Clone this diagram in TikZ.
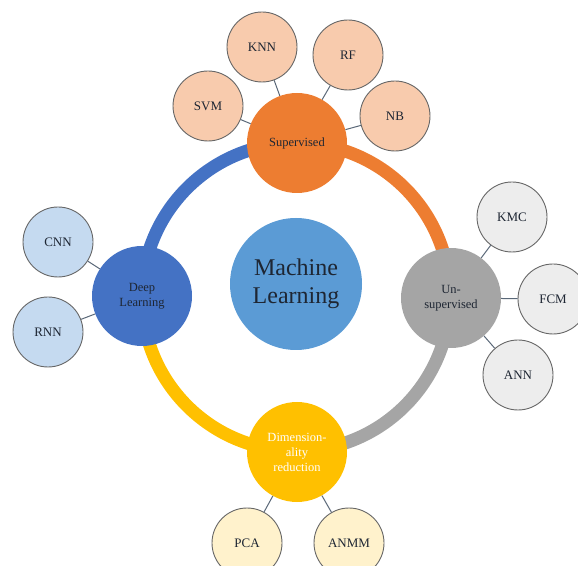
\documentclass[tikz,border=0pt]{standalone}
\usepackage{fontspec}
\setmainfont{Liberation Serif}
\definecolor{suporange}{HTML}{ED7D31}
\definecolor{suplight}{HTML}{F8CBAD}
\definecolor{unsgray}{HTML}{A5A5A5}
\definecolor{unslight}{HTML}{EDEDED}
\definecolor{deepblue}{HTML}{4472C4}
\definecolor{deeplight}{HTML}{C5DAF0}
\definecolor{dimgold}{HTML}{FFC000}
\definecolor{dimlight}{HTML}{FFF2CC}
\definecolor{mlblue}{HTML}{5B9BD5}
\definecolor{spokecol}{HTML}{5A6878}
\definecolor{labelcol}{HTML}{1E2633}
\tikzset{
	topic/.style={circle, minimum size=100pt, inner sep=0pt, align=center,
		font=\fontsize{12.5}{15}\selectfont, text=labelcol},
	leaf/.style={circle, draw=black!60, line width=0.9pt, minimum size=70pt,
		inner sep=0pt, font=\fontsize{13}{15}\selectfont, text=labelcol},
	spoke/.style={draw=spokecol, line width=1pt},
	ringpart/.style={line width=13pt}
}

\begin{document}
\begin{tikzpicture}[x=1pt,y=1pt]
	%%%%% START %%%%%
	\def\cx{296}
	\def\cy{268}
	\def\ringr{154}
	\useasboundingbox (0,0) rectangle (578,565);

	% coloured ring, one quarter per branch
	\draw[ringpart, suporange] (\cx,\cy+\ringr) arc (90:0:\ringr);
	\draw[ringpart, unsgray] (\cx+\ringr,\cy) arc (0:-90:\ringr);
	\draw[ringpart, dimgold] (\cx,\cy-\ringr) arc (-90:-180:\ringr);
	\draw[ringpart, deepblue] (\cx-\ringr,\cy) arc (180:90:\ringr);

	% centre
	\node[circle, fill=mlblue, minimum size=132pt, align=center, text=labelcol,
		font=\fontsize{24}{28}\selectfont] (ml) at (296,281) {Machine\\Learning};

	% branches on the ring
	\node[topic, fill=suporange] (sup) at (297,422) {Supervised};
	\node[topic, fill=unsgray] (unsup) at (451,267) {Un-\\supervised};
	\node[topic, fill=dimgold, text=white] (dimred) at (297,113) {Dimension-\\ality\\reduction};
	\node[topic, fill=deepblue] (deep) at (142,269) {Deep\\Learning};

	% supervised methods
	\node[leaf, fill=suplight] (svm) at (208,459) {SVM};
	\node[leaf, fill=suplight] (knn) at (262,518) {KNN};
	\node[leaf, fill=suplight] (rf) at (348,510) {RF};
	\node[leaf, fill=suplight] (nb) at (395,449) {NB};

	% unsupervised methods
	\node[leaf, fill=unslight] (kmc) at (512,348) {KMC};
	\node[leaf, fill=unslight] (fcm) at (553,266) {FCM};
	\node[leaf, fill=unslight] (ann) at (518,190) {ANN};

	% dimensionality reduction
	\node[leaf, fill=dimlight] (pca) at (247,22) {PCA};
	\node[leaf, fill=dimlight] (anmm) at (349,22) {ANMM};

	% deep learning
	\node[leaf, fill=deeplight] (cnn) at (58,323) {CNN};
	\node[leaf, fill=deeplight] (rnn) at (48,233) {RNN};

	\foreach \leafname in {svm,knn,rf,nb}
		\draw[spoke] (sup) -- (\leafname);
	\foreach \leafname in {kmc,fcm,ann}
		\draw[spoke] (unsup) -- (\leafname);
	\foreach \leafname in {pca,anmm}
		\draw[spoke] (dimred) -- (\leafname);
	\foreach \leafname in {cnn,rnn}
		\draw[spoke] (deep) -- (\leafname);
	%%%%% END %%%%%
\end{tikzpicture}
\end{document}
